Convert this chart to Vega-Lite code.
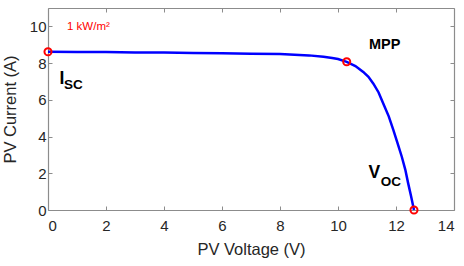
{
  "$schema": "https://vega.github.io/schema/vega-lite/v6.json",
  "width": 406,
  "height": 202,
  "autosize": {"type": "none"},
  "padding": {"left": 48, "top": 8, "right": 10, "bottom": 56},
  "background": "white",
  "config": {
    "view": {"stroke": null},
    "font": "Liberation Sans",
    "axis": {
      "grid": false,
      "domainColor": "#8c8c8c",
      "domainWidth": 1.2,
      "tickColor": "#8c8c8c",
      "tickWidth": 1,
      "tickSize": -4,
      "labelColor": "#262626",
      "labelFont": "Liberation Sans",
      "labelFontSize": 15,
      "titleColor": "#262626",
      "titleFont": "Liberation Sans",
      "titleFontSize": 16.5,
      "titleFontWeight": "normal"
    }
  },
  "datasets": {
    "curve": [
      {"V": 0, "I": 8.62}, {"V": 1, "I": 8.61}, {"V": 2, "I": 8.6}, {"V": 3, "I": 8.58},
      {"V": 4, "I": 8.57}, {"V": 5, "I": 8.55}, {"V": 6, "I": 8.53}, {"V": 7, "I": 8.51},
      {"V": 8, "I": 8.49}, {"V": 8.5, "I": 8.46}, {"V": 9, "I": 8.42}, {"V": 9.5, "I": 8.35},
      {"V": 9.8, "I": 8.28}, {"V": 10, "I": 8.22}, {"V": 10.3, "I": 8.07}, {"V": 10.6, "I": 7.84},
      {"V": 10.87, "I": 7.52}, {"V": 11.05, "I": 7.25}, {"V": 11.22, "I": 6.88}, {"V": 11.4, "I": 6.4},
      {"V": 11.56, "I": 5.8}, {"V": 11.75, "I": 5.1}, {"V": 11.91, "I": 4.35}, {"V": 12.05, "I": 3.65},
      {"V": 12.2, "I": 2.9}, {"V": 12.32, "I": 2.2}, {"V": 12.42, "I": 1.45}, {"V": 12.52, "I": 0.75},
      {"V": 12.62, "I": 0}
    ],
    "points": [
      {"V": 0, "I": 8.62, "name": "Isc"},
      {"V": 10.3, "I": 8.07, "name": "MPP"},
      {"V": 12.62, "I": 0, "name": "Voc"}
    ],
    "big": [
      {"V": 0.4, "I": 7.16, "text": "I"},
      {"V": 11.05, "I": 2.04, "text": "V"}
    ],
    "sub": [
      {"V": 0.55, "I": 6.78, "text": "SC"},
      {"V": 11.47, "I": 1.5, "text": "OC"}
    ],
    "mpp": [
      {"V": 11.07, "I": 8.99, "text": "MPP"}
    ],
    "irr": [
      {"V": 0.655, "I": 9.82, "text": "1 kW/m²"}
    ]
  },
  "layer": [
    {
      "data": {"name": "curve"},
      "mark": {"type": "line", "color": "#0000ff", "strokeWidth": 2.5, "clip": false},
      "encoding": {
        "x": {"field": "V", "type": "quantitative", "scale": {"domain": [0, 14], "nice": false},
          "axis": {"orient": "bottom", "values": [0, 2, 4, 6, 8, 10, 12, 14], "title": "PV Voltage (V)", "labelPadding": 12, "titlePadding": 8}},
        "y": {"field": "I", "type": "quantitative", "scale": {"domain": [0, 11], "nice": false},
          "axis": {"orient": "left", "values": [0, 2, 4, 6, 8, 10], "title": "PV Current (A)", "labelPadding": 6, "titlePadding": 11}}
      }
    },
    {
      "data": {"name": "points"},
      "mark": {"type": "point", "shape": "circle", "filled": false, "color": "#ff0000", "strokeWidth": 2, "size": 50, "opacity": 1, "clip": false},
      "encoding": {
        "x": {"field": "V", "type": "quantitative",
          "axis": {"orient": "top", "values": [0, 2, 4, 6, 8, 10, 12, 14], "labels": false, "title": null}},
        "y": {"field": "I", "type": "quantitative",
          "axis": {"orient": "right", "values": [0, 2, 4, 6, 8, 10], "labels": false, "title": null}}
      }
    },
    {
      "data": {"name": "big"},
      "mark": {"type": "text", "fontWeight": "bold", "color": "#000000", "align": "left", "baseline": "middle", "fontSize": 17.5},
      "encoding": {
        "x": {"field": "V", "type": "quantitative", "axis": null},
        "y": {"field": "I", "type": "quantitative", "axis": null},
        "text": {"field": "text"}
      }
    },
    {
      "data": {"name": "sub"},
      "mark": {"type": "text", "fontWeight": "bold", "color": "#000000", "align": "left", "baseline": "middle", "fontSize": 13.5},
      "encoding": {
        "x": {"field": "V", "type": "quantitative", "axis": null},
        "y": {"field": "I", "type": "quantitative", "axis": null},
        "text": {"field": "text"}
      }
    },
    {
      "data": {"name": "mpp"},
      "mark": {"type": "text", "fontWeight": "bold", "color": "#000000", "align": "left", "baseline": "middle", "fontSize": 14.5},
      "encoding": {
        "x": {"field": "V", "type": "quantitative", "axis": null},
        "y": {"field": "I", "type": "quantitative", "axis": null},
        "text": {"field": "text"}
      }
    },
    {
      "data": {"name": "irr"},
      "mark": {"type": "text", "color": "#ff0000", "align": "left", "baseline": "alphabetic", "fontSize": 11.5},
      "encoding": {
        "x": {"field": "V", "type": "quantitative", "axis": null},
        "y": {"field": "I", "type": "quantitative", "axis": null},
        "text": {"field": "text"}
      }
    }
  ],
  "resolve": {"axis": {"x": "independent", "y": "independent"}}
}
